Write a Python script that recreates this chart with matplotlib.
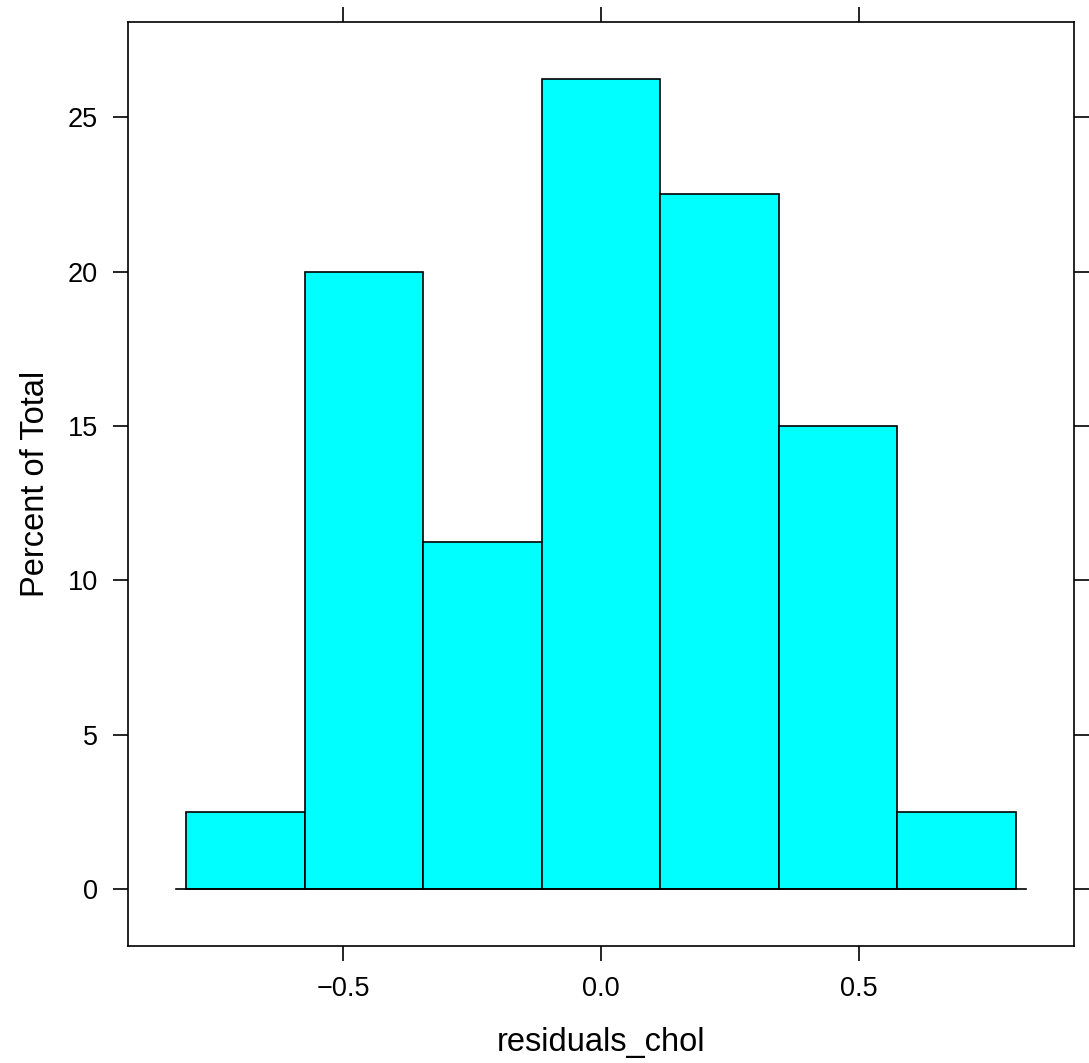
import matplotlib
matplotlib.use('Agg')
import matplotlib.pyplot as plt

# Histogram data (percent of total per bin)
bin_edges = [-0.805, -0.575, -0.345, -0.115, 0.115, 0.345, 0.575, 0.805]
percents = [2.5, 20.0, 11.25, 26.25, 22.5, 15.0, 2.5]
x_ticks = [-0.5, 0.0, 0.5]
x_tick_labels = ['\u22120.5', '0.0', '0.5']
y_ticks = [0, 5, 10, 15, 20, 25]

plt.rcParams['font.family'] = ['Liberation Sans', 'DejaVu Sans']

fig = plt.figure(figsize=(10.89, 10.63), dpi=100)
ax = fig.add_axes([0.1175, 0.1104, 0.8687, 0.8689])

lefts = bin_edges[:-1]
widths = [b - a for a, b in zip(bin_edges[:-1], bin_edges[1:])]
ax.bar(lefts, percents, width=widths, align='edge', color='#00FFFF',
       edgecolor='black', linewidth=1.2)

# baseline under the bars, slightly wider than the bins (lattice style)
ext = 0.02
ax.plot([bin_edges[0] - ext, bin_edges[-1] + ext], [0, 0], color='black', lw=1.2)

# lattice extends the range by 7% on each side
xr = bin_edges[-1] - bin_edges[0]
ax.set_xlim(bin_edges[0] - 0.07 * xr, bin_edges[-1] + 0.07 * xr)
yr = max(percents)
ax.set_ylim(-0.07 * yr, yr * 1.07)

ax.set_xticks(x_ticks)
ax.set_xticklabels(x_tick_labels)
ax.set_yticks(y_ticks)
ax.tick_params(axis='both', direction='out', length=10.5, width=1.2,
               labelsize=19.5, pad=11, top=True, right=True,
               labeltop=False, labelright=False)
for s in ax.spines.values():
    s.set_linewidth(1.2)

ax.set_xlabel('residuals_chol', fontsize=23.5, labelpad=18)
ax.set_ylabel('Percent of Total', fontsize=23.5, labelpad=12)

fig.savefig('out.png', dpi=100)
